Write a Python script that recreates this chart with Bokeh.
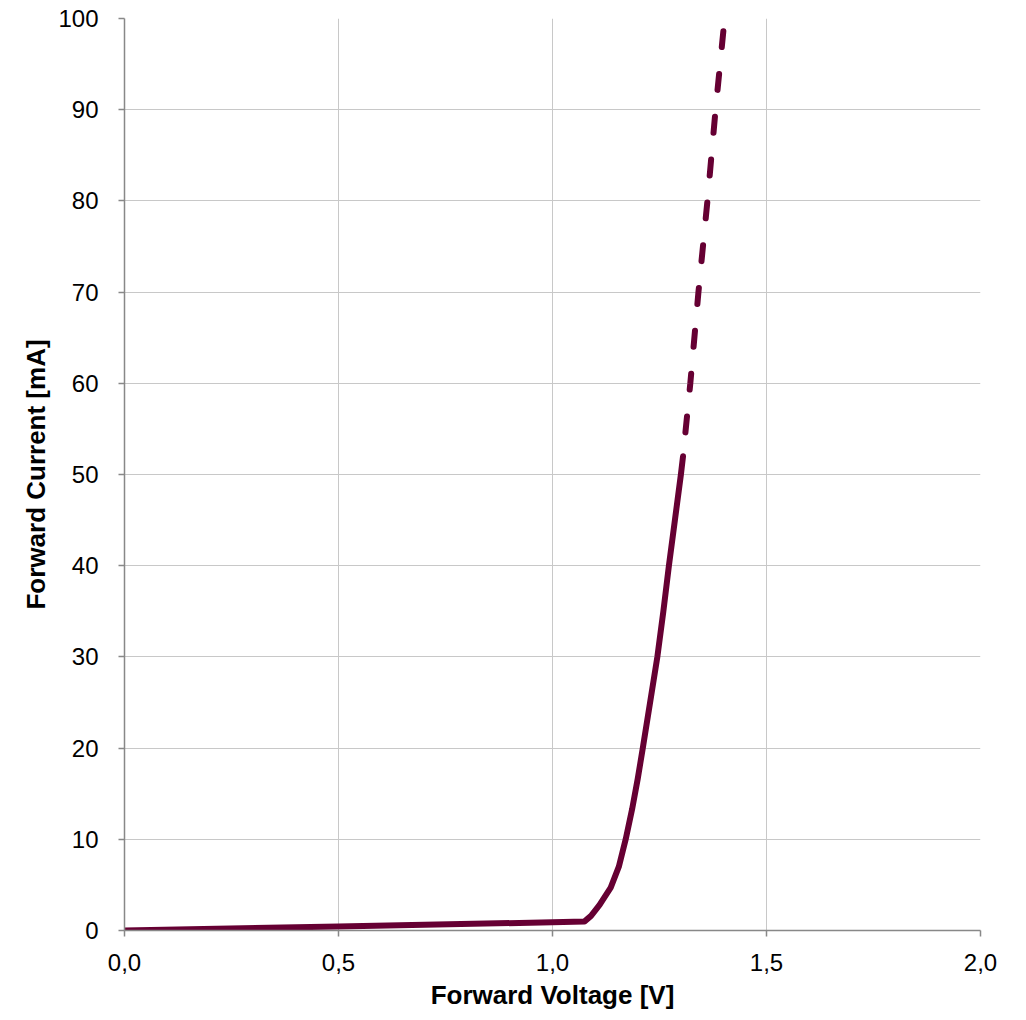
from bokeh.plotting import figure
from bokeh.models import Range1d, FixedTicker, CustomJSTickFormatter
from bokeh.embed import file_html
from bokeh.resources import INLINE

# Solid (measured) part of the forward characteristic
v_solid = [0.0, 0.5, 1.0, 1.075, 1.09, 1.11, 1.136, 1.155, 1.171, 1.186, 1.199,
           1.211, 1.228, 1.245, 1.259, 1.272, 1.286, 1.300, 1.305]
i_solid = [0.0, 0.45, 0.9, 1.0, 1.6, 2.8, 4.7, 7.0, 10.0, 13.3, 16.6,
           20.0, 25.0, 30.0, 35.0, 40.0, 45.0, 50.0, 52.0]

# Dashed (extrapolated) part
v_dash = [1.305, 1.322, 1.341, 1.362, 1.381, 1.400]
i_dash = [52.0, 60.0, 70.0, 80.0, 90.0, 99.0]

x_ticks = [0.0, 0.5, 1.0, 1.5, 2.0]
y_ticks = [0, 10, 20, 30, 40, 50, 60, 70, 80, 90, 100]

FONT = "Liberation Sans"
COLOR = "#660033"

p = figure(frame_width=856, frame_height=912,
           min_border_left=124, min_border_right=38,
           min_border_top=18, min_border_bottom=80,
           output_backend="svg", toolbar_location=None,
           x_range=Range1d(0, 2.0), y_range=Range1d(0, 100))

p.line(v_solid, i_solid, line_color=COLOR, line_width=6, line_cap="round", line_join="round")
p.line(v_dash, i_dash, line_color=COLOR, line_width=6, line_cap="round",
       line_dash="16 27", line_dash_offset=19)

p.outline_line_color = None
p.background_fill_color = "white"
p.border_fill_color = "white"

for g in (p.xgrid, p.ygrid):
    g.grid_line_color = "#c8c8c8"
    g.grid_line_width = 1

p.xaxis.ticker = FixedTicker(ticks=x_ticks)
p.yaxis.ticker = FixedTicker(ticks=y_ticks)
p.xaxis.formatter = CustomJSTickFormatter(code="return tick.toFixed(1).replace('.', ',');")

for ax in (p.xaxis, p.yaxis):
    ax.axis_line_color = "#888888"
    ax.axis_line_width = 1.5
    ax.major_tick_line_color = "#888888"
    ax.major_tick_line_width = 1.5
    ax.major_tick_out = 6
    ax.major_tick_in = 0
    ax.minor_tick_line_color = None
    ax.major_label_text_font = FONT
    ax.major_label_text_font_size = "24px"
    ax.major_label_text_color = "black"
    ax.axis_label_text_font = FONT
    ax.axis_label_text_font_size = "26px"
    ax.axis_label_text_font_style = "bold"
    ax.axis_label_text_color = "black"

p.xaxis.axis_label = "Forward Voltage [V]"
p.yaxis.axis_label = "Forward Current [mA]"
p.xaxis.major_label_standoff = 17
p.yaxis.major_label_standoff = 20
p.xaxis.axis_label_standoff = 6
p.yaxis.axis_label_standoff = 4

open("out.html", "w").write(file_html(p, INLINE))
